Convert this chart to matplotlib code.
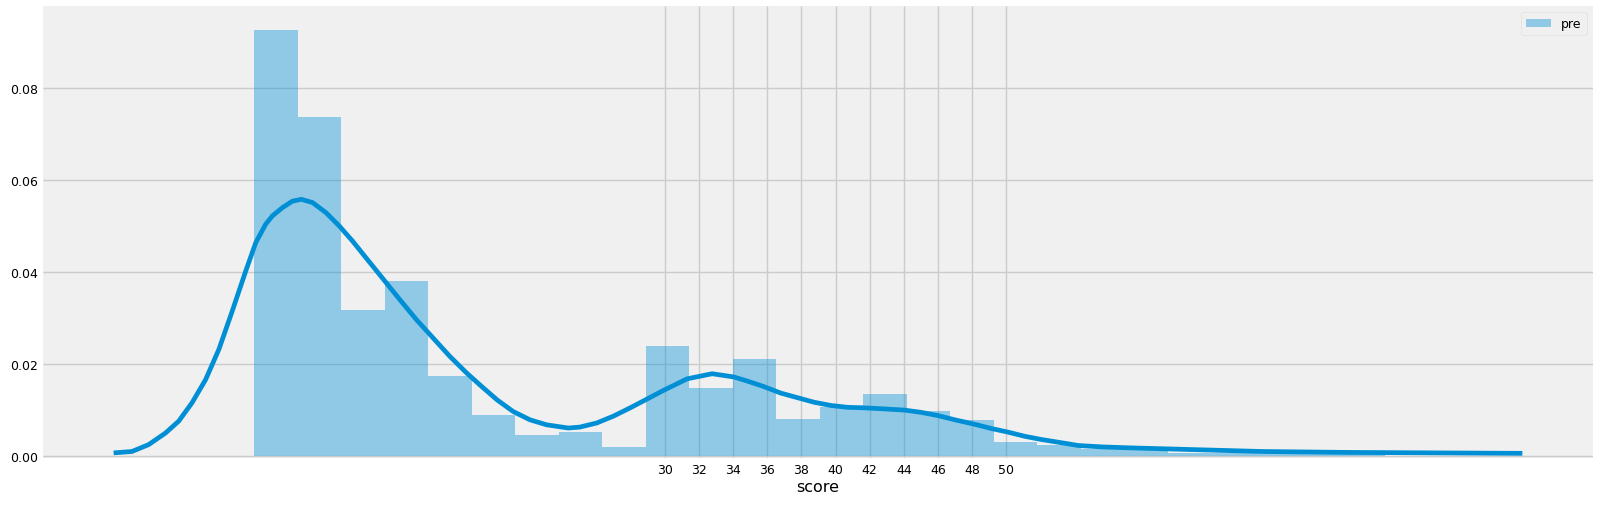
import matplotlib
matplotlib.use("Agg")
import matplotlib.pyplot as plt
import numpy as np

# histogram (density)
bin_start = 5.97
bin_width = 2.546
bar_heights = [0.0925, 0.0736, 0.0316, 0.0379, 0.0172, 0.0088, 0.0044, 0.0052,
               0.0018, 0.0238, 0.0147, 0.0211, 0.0080, 0.0105, 0.0133, 0.0096,
               0.0078, 0.0030, 0.0024, 0.0015, 0.0015, 0.0006, 0.0005, 0.0005,
               0.0005, 0.0005]

# kde curve
kde_x = [-2.25, -1.18, -0.20, 0.78, 1.56, 2.34, 3.13, 3.91, 4.69, 5.48, 6.07,
         6.65, 7.04, 7.63, 8.21, 8.74, 9.39, 10.18, 10.96, 11.74, 12.52,
         13.50, 14.48, 15.46, 16.44, 17.42, 18.40, 19.30, 20.20, 21.13, 22.11,
         23.09, 24.36, 25.03, 26.03, 27.01, 27.99, 28.97, 29.94, 31.32, 32.78,
         34.05, 34.84, 35.81, 36.79, 37.77, 38.75, 39.73, 40.71, 41.60, 42.66,
         44.03, 45.02, 46.0, 46.97, 48.05, 49.12, 50.11, 51.08, 52.06, 53.23,
         54.22, 55.58, 57.15, 59.11, 61.06, 65.0, 70.0, 75.0, 80.2]
kde_y = [0.0006, 0.0009, 0.0024, 0.0049, 0.0075, 0.0115, 0.0165, 0.0231,
         0.0314, 0.0401, 0.0463, 0.0503, 0.0521, 0.0539, 0.0553, 0.0557,
         0.0550, 0.0528, 0.0499, 0.0466, 0.0430, 0.0385, 0.0340, 0.0296,
         0.0256, 0.0216, 0.0180, 0.0150, 0.0121, 0.0096, 0.0078, 0.0067,
         0.0060, 0.0062, 0.0071, 0.0086, 0.0104, 0.0123, 0.0142, 0.0167,
         0.0178, 0.0171, 0.0162, 0.0150, 0.0136, 0.0126, 0.0116, 0.0109,
         0.0105, 0.0104, 0.0102, 0.0099, 0.0094, 0.0087, 0.0078, 0.0069,
         0.0059, 0.0051, 0.0042, 0.0035, 0.0028, 0.0022, 0.0019, 0.0017,
         0.0015, 0.0013, 0.0009, 0.0007, 0.0006, 0.0005]

x_ticks = list(range(30, 52, 2))
y_ticks = [0.00, 0.02, 0.04, 0.06, 0.08]

plt.style.use('fivethirtyeight')
blue = '#008fd5'

fig = plt.figure(figsize=(16, 5.06), dpi=100, facecolor='white')
ax = fig.add_axes([0.027, 0.093, 0.9685, 0.893])
ax.set_facecolor('#f0f0f0')

edges = bin_start + bin_width * np.arange(len(bar_heights))
ax.bar(edges, bar_heights, width=bin_width, align='edge', color=blue,
       alpha=0.4, linewidth=0, label='pre')
ax.plot(kde_x, kde_y, color=blue, lw=3.4, solid_capstyle='butt',
        solid_joinstyle='round')

ax.set_xticks(x_ticks)
ax.set_yticks(y_ticks)
ax.set_yticklabels([f"{v:.2f}" for v in y_ticks])
ax.set_ylim(-0.0005, 0.0977)
ax.tick_params(labelsize=9, length=0, pad=4)
ax.set_xlabel('score', fontsize=11.5, labelpad=2)
ax.grid(True, color='#cbcbcb', lw=1)
ax.set_axisbelow(True)
for s in ax.spines.values():
    s.set_visible(False)

leg = ax.legend(loc='upper right', fontsize=9, frameon=True)
leg.get_frame().set_facecolor('#f0f0f0')
leg.get_frame().set_edgecolor('#dddddd')

fig.savefig('out.png', dpi=100, facecolor='white')
